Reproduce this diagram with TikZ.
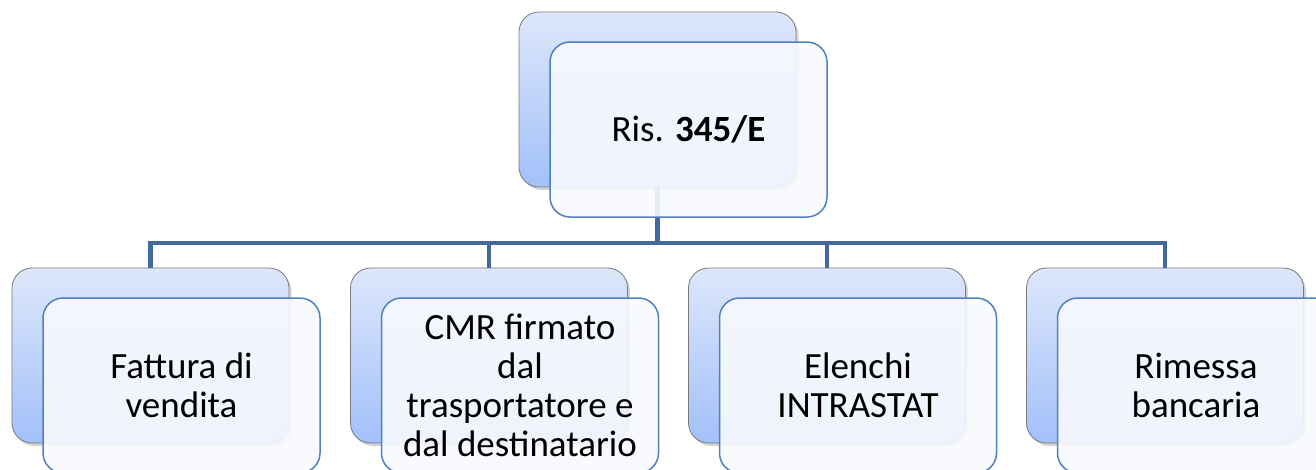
\documentclass[tikz,border=0pt]{standalone}
\usepackage{fontspec}
\setmainfont{Carlito}
\usetikzlibrary{shadows}
\definecolor{conncol}{HTML}{41699C}
\definecolor{backtop}{HTML}{DDE7FB}
\definecolor{backbot}{HTML}{A2C0FA}
\definecolor{backline}{HTML}{7A7A7A}
\definecolor{frontline}{HTML}{4F81BD}
\definecolor{frontfill}{HTML}{F7F9FE}
\tikzset{
  backbox/.style={draw=backline, line width=0.8pt, rounded corners=20pt,
    minimum width=277pt, minimum height=175pt, inner sep=0pt,
    top color=backtop, bottom color=backbot,
    drop shadow={shadow xshift=2.5pt, shadow yshift=-3pt, opacity=0.35}},
  frontbox/.style={draw=frontline, line width=1.5pt, rounded corners=20pt,
    minimum width=277pt, minimum height=175pt, inner sep=2pt,
    fill=frontfill, fill opacity=0.9, text opacity=1, align=center,
    font=\fontsize{37}{39}\selectfont},
  conn/.style={draw=conncol, line width=4.5pt, line join=miter}
}
\begin{document}
\begin{tikzpicture}[x=1pt,y=-1pt]
\useasboundingbox (0,0) rectangle (1316,469);
\clip (0,0) rectangle (1316,469);
\coordinate (bar) at (0,243);
% back boxes
\node[backbox] (t) at (657.5,99.5) {};
\node[backbox] (c1) at (150.5,355.5) {};
\node[backbox] (c2) at (489,355.5) {};
\node[backbox] (c3) at (827,355.5) {};
\node[backbox] (c4) at (1165,355.5) {};
% connectors
\foreach \c in {c1,c2,c3,c4}{
  \draw[conn] (t.south) -- (t.south |- bar) -| (\c.north);
}
% front boxes
\node[frontbox] (tf) at (688.5,129.5) {Ris. \textbf{345/E}};
\node[frontbox] (c1f) at (181.5,385.5) {Fattura di\\vendita};
\node[frontbox] (c2f) at (520,385.5) {CMR firmato\\dal\\trasportatore e\\dal destinatario};
\node[frontbox] (c3f) at (858,385.5) {Elenchi\\INTRASTAT};
\node[frontbox] (c4f) at (1196,385.5) {Rimessa\\bancaria};
\end{tikzpicture}
\end{document}
